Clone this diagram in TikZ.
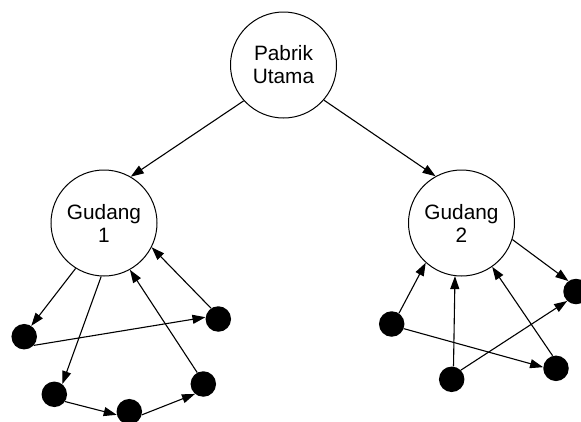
\documentclass[tikz,border=0pt]{standalone}
\usepackage{fontspec}
\setmainfont{Liberation Sans}
\usetikzlibrary{arrows.meta}
\begin{document}
\begin{tikzpicture}[x=1pt,y=-1pt,
  place/.style={circle,draw,line width=1pt,minimum size=106pt,inner sep=0pt,
    align=center,font=\fontsize{20.8}{23}\selectfont},
  spot/.style={circle,fill=black,minimum size=25.5pt,inner sep=0pt},
  flow/.style={line width=1.1pt,-{Triangle[length=13pt,width=9pt]}}]
\useasboundingbox (0,0) rectangle (581,421);
% facilities
\node[place] (pabrik) at (283.5,65) {Pabrik\\Utama};
\node[place] (gud1) at (104,223) {Gudang\\1};
\node[place] (gud2) at (461.5,223) {Gudang\\2};
% outlets of warehouse 1
\node[spot] (a) at (24.2,336.7) {};
\node[spot] (b) at (218.3,319) {};
\node[spot] (c) at (54.3,394.3) {};
\node[spot] (d) at (129.3,411.7) {};
\node[spot] (e) at (203.3,384) {};
% outlets of warehouse 2
\node[spot] (f) at (391.7,324) {};
\node[spot] (h) at (451.7,379.3) {};
\node[spot] (i) at (556,368.3) {};
\node[spot] (g) at (576,291.5) {};
% distribution flows
\draw[flow] (pabrik.222.9) -- (gud1.60.5);
\draw[flow] (pabrik.319.5) -- (gud2.119.4);
\draw[flow] (gud1.238.7) -- (a.57.3);
\draw[flow] (gud1.267.5) -- (c.52.6);
\draw[flow] (a.-42.4) -- (b.172.7);
\draw[flow] (c.-34.7) -- (d.194.7);
\draw[flow] (d.-14.9) -- (e.230.3);
\draw[flow] (e.118.2) -- (gud1.299.3);
\draw[flow] (b.124) -- (gud1.333);
\draw[flow] (f.56) -- (gud2.228.3);
\draw[flow] (h.82.8) -- (gud2.263);
\draw[flow] (i.105.9) -- (gud2.305.2);
\draw[flow] (gud2.342.3) -- (g.126);
\draw[flow] (f.-21.7) -- (i.175.5);
\draw[flow] (h.45.8) -- (g.227);
\end{tikzpicture}
\end{document}
